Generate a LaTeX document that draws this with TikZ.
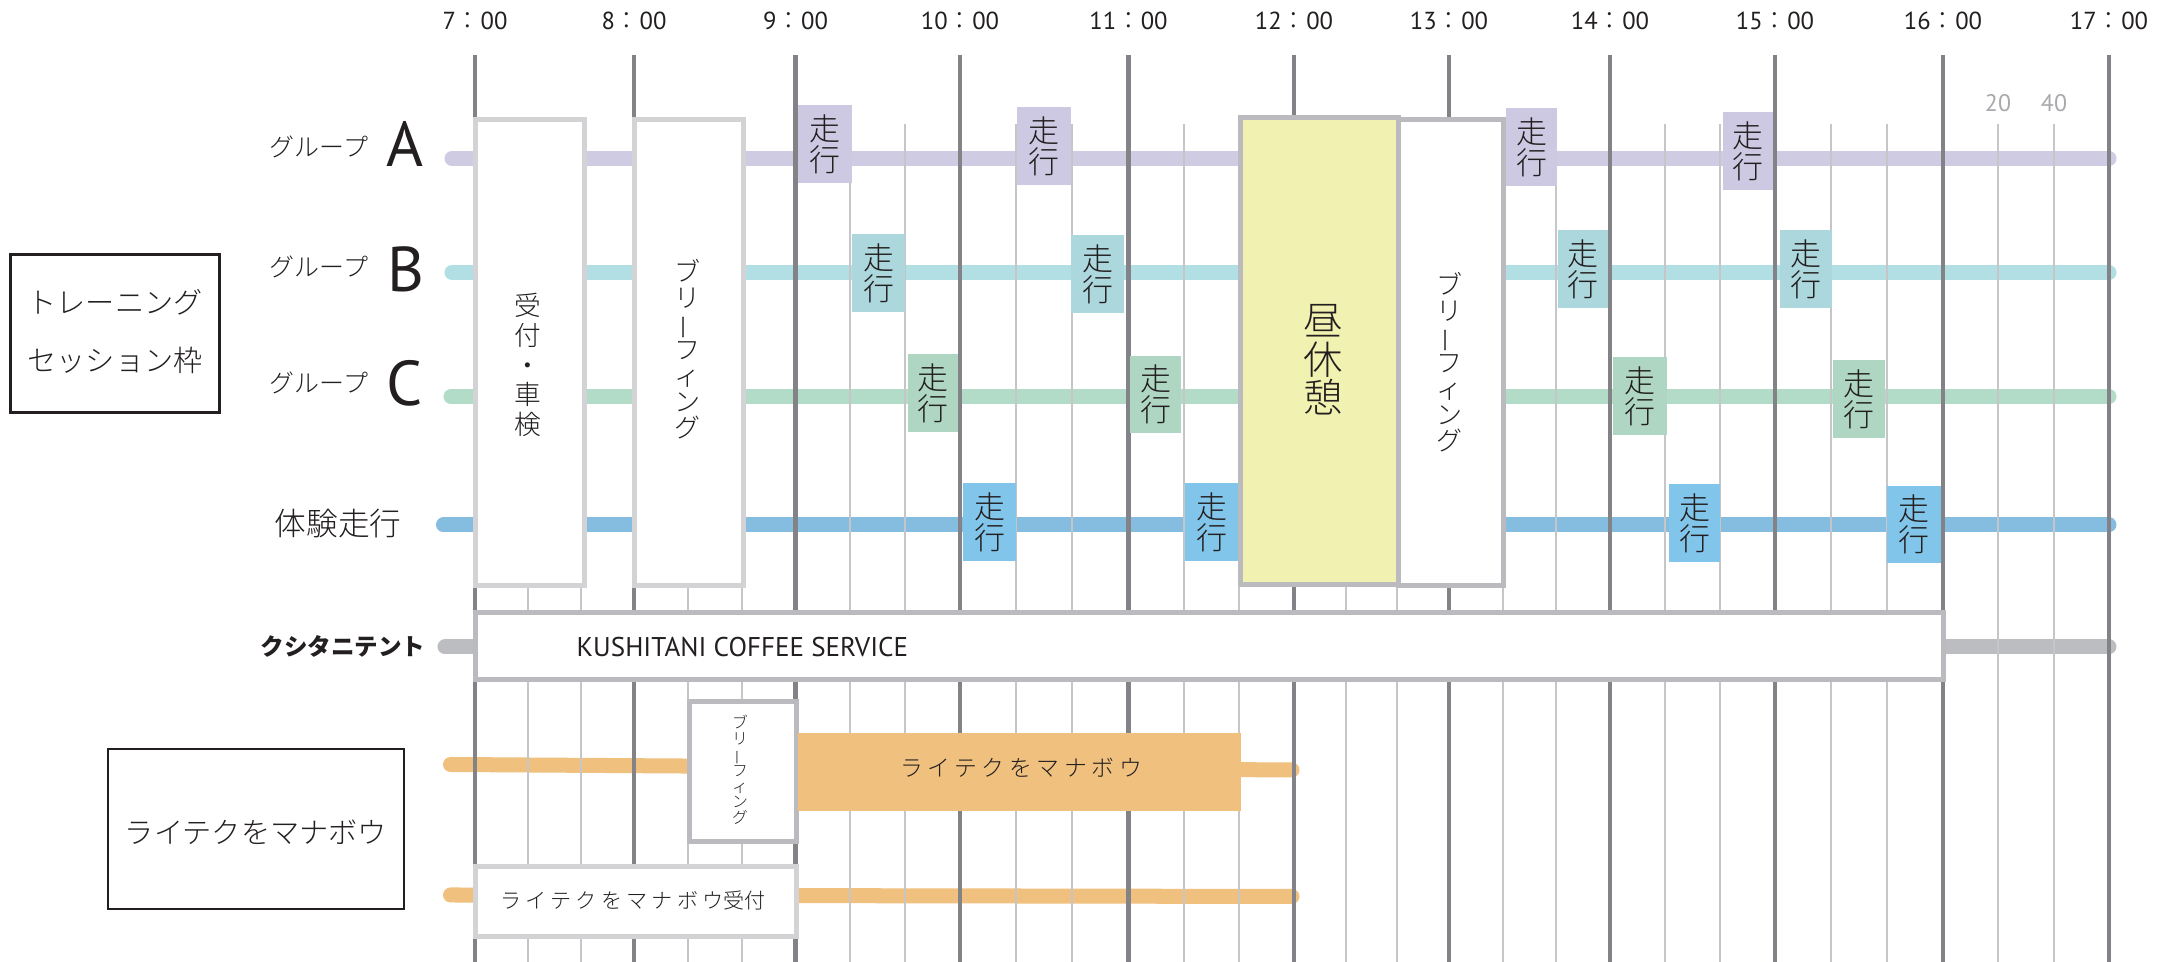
\documentclass[tikz,border=0pt]{standalone}
\usepackage{fontspec}
\usepackage{graphicx}
\setmainfont{PT Sans}
\newfontfamily\jpr{Noto Sans CJK JP}
\IfFontExistsTF{Noto Sans CJK JP Light}{%
  \newfontfamily\jp{Noto Sans CJK JP Light}%
  \newfontfamily\jpls{Noto Sans CJK JP Light}[LetterSpace=20]}{%
  \newfontfamily\jp{Noto Sans CJK JP}%
  \newfontfamily\jpls{Noto Sans CJK JP}[LetterSpace=20]}
\newfontfamily\lat{PT Sans}
\newcommand{\fsz}[1]{\fontsize{#1}{#1}\selectfont}
\newcommand{\vchoon}{\rotatebox[origin=c]{90}{ー}}
\definecolor{hourgray}{HTML}{838387}
\definecolor{minorgray}{HTML}{C6C6C8}
\definecolor{boxlight}{HTML}{D3D3D5}
\definecolor{boxdark}{HTML}{BBBBBF}
\definecolor{barA}{HTML}{CFCBE3}
\definecolor{tagA}{HTML}{CDC9E2}
\definecolor{barB}{HTML}{B2DFE3}
\definecolor{tagB}{HTML}{ACD7DD}
\definecolor{barC}{HTML}{B2DCC8}
\definecolor{tagC}{HTML}{AED6C2}
\definecolor{barT}{HTML}{84BDE0}
\definecolor{tagT}{HTML}{82C5EA}
\definecolor{liteorange}{HTML}{F0C17E}
\definecolor{graybar}{HTML}{BCBDC0}
\definecolor{lunch}{HTML}{F1F1B1}
\definecolor{textc}{HTML}{231F20}
\definecolor{minutegray}{HTML}{A7A9AC}
\tikzset{
  hourline/.style={draw=hourgray, line width=0.45mm},
  minorline/.style={draw=minorgray, line width=0.2mm},
  bar/.style={line width=1.5mm, line cap=round},
  lightbox/.style={draw=boxlight, line width=0.5mm, fill=white},
  darkbox/.style={draw=boxdark, line width=0.5mm, fill=white},
  blackbox/.style={draw=textc, line width=0.28mm, fill=white},
  txt/.style={text=textc, inner sep=0pt, align=center},
  timelbl/.style={txt, font=\lat\fsz{7}},
  grp/.style={txt, font=\jp\fsz{7.1}},
  grpletter/.style={txt, font=\lat\fsz{18}},
  runtxt/.style={txt, font=\jp\fsz{8.8}},
  brief/.style={txt, font=\jp\fsz{7.4}},
}
\newcommand{\runtag}[6]{%
  \path[fill=#2] (#3,#4) rectangle (#5,#6);
  \node[runtxt] (#1) at ({(#3+#5)/2},{(#4+#6)/2}) {走\\行};}
\begin{document}
\begin{tikzpicture}[x=0.01cm,y=-0.01cm]
\useasboundingbox (0,0) rectangle (2162,962);
\fill[white] (0,0) rectangle (2162,962);
% bars
\draw[bar, barA] (452,158.5) -- (2109,158.5);
\draw[bar, barB] (452,272.5) -- (2109,272.5);
\draw[bar, barC] (451,396.5) -- (2109,396.5);
\draw[bar, barT] (443.5,525) -- (2109,525);
\draw[bar, graybar] (445,647) -- (2109,647);
\draw[bar, liteorange] (450.5,764.5) -- (1292,770);
\draw[bar, liteorange] (450.5,895) -- (1292,896.5);
% grid
\foreach \x in {528,581,688,741.7,850.3,905.2,1016.2,1072.3,1183.7,1238.8,1345.7,1397.3,1502.7,1556.3,1665,1720,1831,1887,1998.3,2053.7}
  \draw[minorline] (\x,124) -- (\x,962);
\foreach \x in {475,634,795.5,960,1128.5,1294,1449,1610,1775,1943,2109}
  \draw[hourline] (\x,55) -- (\x,962);
% time labels
\foreach \x/\h in {475/7,634/8,795.5/9,960/10,1128.5/11,1294/12,1449/13,1610/14,1775/15,1943/16,2109/17}
  \node[timelbl] (time\h) at (\x,21) {\h{\jp ：}00};
\node[txt, text=minutegray, font=\lat\fsz{6.8}] (m20) at (1998,103) {20};
\node[txt, text=minutegray, font=\lat\fsz{6.8}] (m40) at (2054,103) {40};
% boxes
\draw[lightbox] (475,120) rectangle (584,586);
\draw[lightbox] (634,120) rectangle (743,586);
\draw[darkbox, fill=lunch] (1240,118) rectangle (1398,585);
\draw[darkbox] (1398,120) rectangle (1503,586);
\draw[darkbox] (475,613) rectangle (1943,680);
\draw[darkbox] (689,702) rectangle (796,842);
\draw[lightbox] (475,867) rectangle (796,937);
\fill[liteorange] (798,733) rectangle (1241,811);
% box texts
\node[txt, font=\jp\fontsize{7.6}{8.5}\selectfont] (uketsuke) at (528,365) {受\\付\\・\\車\\検};
\node[brief] (brief1) at (688,349) {ブ\\リ\\\vchoon\\フ\\ィ\\ン\\グ};
\node[txt, font=\jp\fontsize{11.2}{10.9}\selectfont] (lunchtxt) at (1323,360) {昼\\休\\憩};
\node[brief] (brief2) at (1450,362) {ブ\\リ\\\vchoon\\フ\\ィ\\ン\\グ};
\node[txt, font=\jp\fsz{4.5}] (brief3) at (740,770) {ブ\\リ\\\vchoon\\フ\\ィ\\ン\\グ};
\node[txt, font=\lat\fsz{7.7}, anchor=west] (coffee) at (576,647) {KUSHITANI COFFEE SERVICE};
\node[txt, font=\jpls\fsz{6.5}] (litetxt) at (1021,768) {ライテクをマナボウ};
\node[txt, font=\fsz{6}] (liteuke) at (633,900) {\jpls ライテクをマナボウ\jp 受付};
% run tags
\runtag{rA1}{tagA}{798}{105}{852}{183}
\runtag{rA2}{tagA}{1017}{107}{1071}{185}
\runtag{rA3}{tagA}{1506}{108}{1557}{186}
\runtag{rA4}{tagA}{1723}{112}{1773}{190}
\runtag{rB1}{tagB}{852}{234}{905}{312}
\runtag{rB2}{tagB}{1071}{235}{1124}{313}
\runtag{rB3}{tagB}{1558}{230}{1608}{308}
\runtag{rB4}{tagB}{1780}{230}{1832}{308}
\runtag{rC1}{tagC}{908}{354}{958}{432}
\runtag{rC2}{tagC}{1130}{356}{1181}{433}
\runtag{rC3}{tagC}{1613}{357}{1667}{435}
\runtag{rC4}{tagC}{1833}{360}{1885}{438}
\runtag{rT1}{tagT}{963}{483}{1016}{561}
\runtag{rT2}{tagT}{1185}{483}{1238}{561}
\runtag{rT3}{tagT}{1669}{484}{1720}{562}
\runtag{rT4}{tagT}{1887}{486}{1941}{563}
% row labels
\node[grp] (gA) at (319,147) {グループ};
\node[grp] (gB) at (319,267) {グループ};
\node[grp] (gC) at (319,383) {グループ};
\node[grpletter] (lA) at (405,144.5) {A};
\node[grpletter] (lB) at (405.5,269) {B};
\node[grpletter] (lC) at (404.5,383) {C};
\node[txt, font=\jp\fsz{9}] (taiken) at (338,524) {体験走行};
\node[txt, font=\jpr\bfseries\fsz{6.7}] (tent) at (343,646) {クシタニテント};
% left boxes
\draw[blackbox] (10.5,254.5) rectangle (219.5,412.5);
\node[txt, font=\jp\fontsize{8.3}{16.5}\selectfont] (training) at (115,332) {トレーニング\\セッション枠};
\draw[blackbox] (108,749) rectangle (404,909);
\node[txt, font=\jp\fsz{8.3}] (litebox) at (256,832) {ライテクをマナボウ};
\end{tikzpicture}
\end{document}
